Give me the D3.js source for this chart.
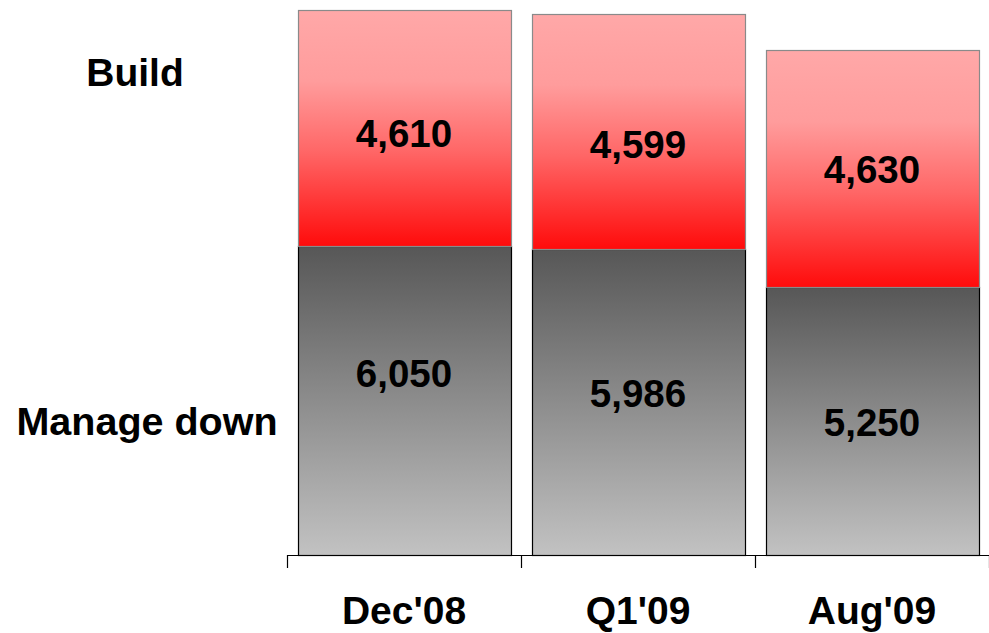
<!DOCTYPE html>
<html><head><meta charset="utf-8">
<script src="https://cdn.jsdelivr.net/npm/d3@7"></script>
<style>body{margin:0;background:#fff}svg{display:block}text{font-family:"Liberation Sans",Arial,sans-serif;font-weight:bold;fill:#000}</style>
</head><body><svg id="c" width="989" height="633"></svg>
<script>
const categories = ["Dec'08", "Q1'09", "Aug'09"];
const seriesNames = ["Manage down", "Build"];
const manageDown = [6050, 5986, 5250];
const build = [4610, 4599, 4630];

const svg = d3.select("#c");
const x = d3.scaleBand().domain(categories).range([287, 989]).paddingInner(0.09).paddingOuter(0.045);
const y = d3.scaleLinear().domain([0, 10660]).range([555, 10]);

const defs = svg.append("defs");
const gRed = defs.append("linearGradient").attr("id", "gRed").attr("x1", 0).attr("y1", 0).attr("x2", 0).attr("y2", 1);
[[0, "#ffa8a8"], [0.3, "#ff9c9c"], [0.6, "#ff6666"], [1, "#ff0b0b"]].forEach(s => gRed.append("stop").attr("offset", s[0]).attr("stop-color", s[1]));
const gGray = defs.append("linearGradient").attr("id", "gGray").attr("x1", 0).attr("y1", 0).attr("x2", 0).attr("y2", 1);
[[0, "#575757"], [1, "#c2c2c2"]].forEach(s => gGray.append("stop").attr("offset", s[0]).attr("stop-color", s[1]));

const data = categories.map((c, i) => ({ c, md: manageDown[i], b: build[i] }));
const stack = d3.stack().keys(["md", "b"])(data);
const fills = ["url(#gGray)", "url(#gRed)"];
const strokes = ["#000", "#8a8a8a"];
// manual label nudges (layout only), per layer then per category
const nudge = [[-27, -9, 1], [5, 13, 1]];
const px = v => Math.round(v) + 0.5;

stack.forEach((layer, li) => {
  svg.append("g").selectAll("rect").data(layer).join("rect")
    .attr("x", d => px(x(d.data.c)))
    .attr("y", d => px(y(d[1])))
    .attr("width", Math.round(x.bandwidth()))
    .attr("height", d => Math.round(y(d[0])) - Math.round(y(d[1])))
    .attr("fill", fills[li])
    .attr("stroke", strokes[li])
    .attr("stroke-width", 1.2);
});
stack.forEach((layer, li) => {
  svg.append("g").selectAll("text").data(layer).join("text")
    .attr("x", d => x(d.data.c) + x.bandwidth() / 2)
    .attr("y", (d, i) => (y(d[0]) + y(d[1])) / 2 + nudge[li][i])
    .attr("dy", "0.36em")
    .attr("text-anchor", "middle")
    .attr("font-size", 38.5)
    .text(d => d3.format(",")(d[1] - d[0]));
});

// axis
const ax = svg.append("g");
ax.append("line").attr("x1", 287).attr("x2", 989).attr("y1", 555.5).attr("y2", 555.5).attr("stroke", "#000").attr("stroke-width", 1.2);
const bounds = categories.map(c => x(c) - x.step() * x.paddingInner() / 2);
bounds.push(989);
bounds[0] = 287;
ax.selectAll("line.t").data(bounds).join("line").attr("class", "t")
  .attr("x1", d => px(d)).attr("x2", d => px(d))
  .attr("y1", 555).attr("y2", 568).attr("stroke", "#000").attr("stroke-width", 1.2);
ax.selectAll("text").data(categories).join("text")
  .attr("x", d => x(d) + x.bandwidth() / 2)
  .attr("y", 624)
  .attr("text-anchor", "middle")
  .attr("font-size", 39)
  .text(d => d);

// series labels
svg.append("text").attr("x", 135).attr("y", 86).attr("text-anchor", "middle").attr("font-size", 39).text(seriesNames[1]);
svg.append("text").attr("x", 147).attr("y", 435).attr("text-anchor", "middle").attr("font-size", 39.5).text(seriesNames[0]);
</script></body></html>
